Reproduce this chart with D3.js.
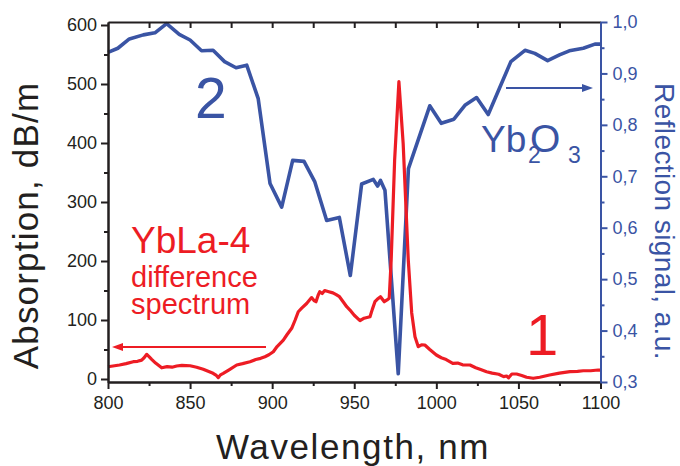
<!DOCTYPE html>
<html>
<head>
<meta charset="utf-8">
<script src="https://cdn.jsdelivr.net/npm/d3@7/dist/d3.min.js"></script>
<style>
  html, body { margin: 0; padding: 0; background: #fff; }
  svg { display: block; font-family: "Liberation Sans", Arial, Helvetica, sans-serif; }
</style>
</head>
<body>
<svg id="chart" width="680" height="466"></svg>
<script>
// Wavelength ticks (nm)
const wavelengthTicks = [800, 850, 900, 950, 1000, 1050, 1100];
const wavelengthMinor = [825, 875, 925, 975, 1025, 1075];
// Absorption ticks (dB/m), left axis
const absorptionTicks = [0, 100, 200, 300, 400, 500, 600];
const absorptionMinor = [50, 150, 250, 350, 450, 550];
// Reflection ticks (a.u.), right axis
const reflectionTicks = [0.3, 0.4, 0.5, 0.6, 0.7, 0.8, 0.9, 1.0];
const reflectionMinor = [0.35, 0.45, 0.55, 0.65, 0.75, 0.85, 0.95];

// Curve 2: Yb2O3 reflection signal
const reflWavelength = [800, 806, 813, 821.5, 828.6, 835.7, 843.4, 850, 857, 864, 871, 878, 884.5,
  891.5, 898.7, 905.8, 912.5, 919.4, 926, 933.2, 940.9, 947.6, 954.5, 961.6, 964.2, 966, 968.7,
  976.8, 983, 996, 1003, 1010.7, 1017.4, 1024.5, 1031.6, 1038.7, 1045.4, 1054, 1060, 1067.8,
  1075, 1081, 1089.5, 1096.6, 1100];
const reflSignal = [0.941, 0.949, 0.967, 0.975, 0.979, 0.997, 0.976, 0.965, 0.944, 0.945, 0.923, 0.911, 0.916,
  0.851, 0.686, 0.640, 0.731, 0.729, 0.689, 0.614, 0.620, 0.507, 0.685, 0.694, 0.681, 0.692, 0.673,
  0.316, 0.715, 0.837, 0.803, 0.811, 0.838, 0.853, 0.820, 0.873, 0.923, 0.945, 0.939, 0.925,
  0.936, 0.944, 0.949, 0.957, 0.957];

// Curve 1: YbLa-4 difference absorption spectrum
const absWavelength = [800, 803, 807, 811, 815.4, 818, 820.5, 822, 823.6, 825, 826.6, 829, 832.7, 836, 839,
  841.8, 845, 850, 854, 858, 861, 864, 866, 867.2, 868.5, 870.2, 874, 878.4, 882, 886.5, 890, 893,
  895.6, 898, 900.7, 903, 906.8, 909, 911.9, 914, 915.9, 918, 921, 924, 925.5, 926.7, 928, 929,
  930.5, 932, 934.5, 937, 939, 941, 944, 945.4, 948, 950, 953.5, 956, 959.6, 961, 962.6, 964, 966,
  968.3, 970, 971.3, 972.5, 974.6, 977.2, 979.8, 982.9, 985, 987, 989, 991, 993, 996, 1000, 1003,
  1006, 1010, 1013, 1016, 1020.5, 1024, 1027, 1030.6, 1034, 1038, 1041, 1042.8, 1044, 1046, 1048.9,
  1052, 1055, 1059, 1063, 1069, 1075, 1081.4, 1086, 1089.5, 1094, 1098.6, 1100];
const absValue = [20.8, 22, 23.7, 26, 29.3, 30, 32, 36, 41.8, 38, 33.3, 27, 19, 21, 20,
  22, 23, 22.5, 20, 16.4, 13, 9.6, 6, 2.3, 7, 9.6, 16, 23.7, 26, 29.3, 33, 35,
  37.8, 41, 46.3, 55, 66, 75, 86, 100, 114, 120, 128, 138, 133, 131, 142, 148,
  145, 150, 148, 146, 143, 139.5, 128, 122.5, 115, 108, 98.8, 103, 105.6, 118, 131, 135, 139.5,
  131, 134, 136.8, 202, 371, 504, 399, 202, 112, 71.7, 54.7, 58, 57.6, 50, 40.7, 36,
  33, 26.6, 27, 24, 23.7, 19, 16, 12.4, 10, 8, 4, 5, 2, 8.5, 8.5,
  6, 3, 1.2, 3, 6.8, 10, 12.4, 13, 14, 14, 15.3, 15];

const RED = "#ed1c24";
const BLUE = "#3a54a4";
const INK = "#231f20";

const svg = d3.select("#chart");

const x = d3.scaleLinear().domain([800, 1100]).range([108, 600.5]);
const yL = d3.scaleLinear().domain([-5.08, 605.08]).range([382, 22]);
const yR = d3.scaleLinear().domain([0.3, 1.0]).range([382, 22]);

function styleAxis(g, color) {
  g.selectAll(".domain").attr("stroke", color).attr("stroke-width", 2);
  g.selectAll(".tick line").attr("stroke", color).attr("stroke-width", 2);
  g.selectAll(".tick text").attr("fill", color).style("font-size", "18px")
    .style("font-family", "'Liberation Sans', Arial, sans-serif");
}

// Curves
const reflPts = reflWavelength.map((w, i) => [w, reflSignal[i]]);
const absPts = absWavelength.map((w, i) => [w, absValue[i]]);

svg.append("path")
  .attr("d", d3.line().x(d => x(d[0])).y(d => yR(d[1]))(reflPts))
  .attr("fill", "none").attr("stroke", BLUE).attr("stroke-width", 3.6)
  .attr("stroke-linejoin", "round");

svg.append("path")
  .attr("d", d3.line().x(d => x(d[0])).y(d => yL(d[1]))(absPts))
  .attr("fill", "none").attr("stroke", RED).attr("stroke-width", 3.2)
  .attr("stroke-linejoin", "round");

// Bottom axis
const gB = svg.append("g").attr("transform", "translate(0,382)")
  .call(d3.axisBottom(x).tickValues(wavelengthTicks).tickSize(7).tickSizeOuter(0).tickPadding(7).tickFormat(d3.format("d")));
styleAxis(gB, INK);
const gBm = svg.append("g").attr("transform", "translate(0,382)")
  .call(d3.axisBottom(x).tickValues(wavelengthMinor).tickSize(4).tickSizeOuter(0).tickFormat(""));
styleAxis(gBm, INK);

// Top frame with inward ticks
const gT = svg.append("g").attr("transform", "translate(0,22)")
  .call(d3.axisBottom(x).tickValues(wavelengthTicks.slice(1, -1).concat(wavelengthMinor)).tickSize(6).tickSizeOuter(0).tickFormat(""));
styleAxis(gT, INK);

// Left axis
const gL = svg.append("g").attr("transform", "translate(108,0)")
  .call(d3.axisLeft(yL).tickValues(absorptionTicks).tickSize(7).tickSizeOuter(0).tickPadding(4).tickFormat(d3.format("d")));
styleAxis(gL, INK);
const gLm = svg.append("g").attr("transform", "translate(108,0)")
  .call(d3.axisLeft(yL).tickValues(absorptionMinor).tickSize(4).tickSizeOuter(0).tickFormat(""));
styleAxis(gLm, INK);

// Right axis
const commaFmt = d => d3.format(".1f")(d).replace(".", ",");
const gR = svg.append("g").attr("transform", "translate(600.5,0)")
  .call(d3.axisRight(yR).tickValues(reflectionTicks).tickSize(7).tickSizeOuter(0).tickPadding(5).tickFormat(commaFmt));
styleAxis(gR, BLUE);
const gRm = svg.append("g").attr("transform", "translate(600.5,0)")
  .call(d3.axisRight(yR).tickValues(reflectionMinor).tickSize(4).tickSizeOuter(0).tickFormat(""));
styleAxis(gRm, BLUE);

// Axis titles
svg.append("text").attr("x", 353).attr("y", 459).attr("text-anchor", "middle")
  .style("font-size", "35px").style("letter-spacing", "1.6px").attr("fill", INK)
  .text("Wavelength, nm");
svg.append("text").attr("transform", "translate(38,225.5) rotate(-90)").attr("text-anchor", "middle")
  .style("font-size", "35px").style("letter-spacing", "1.2px").attr("fill", INK)
  .text("Absorption, dB/m");
svg.append("text").attr("transform", "translate(655,221.5) rotate(90)").attr("text-anchor", "middle")
  .style("font-size", "28px").style("letter-spacing", "0.4px").attr("fill", BLUE)
  .text("Reflection signal, a.u.");

// Curve labels
svg.append("text").attr("x", 195).attr("y", 118).style("font-size", "57px").attr("fill", BLUE).text("2");
svg.append("text").attr("x", 526).attr("y", 355).style("font-size", "58px").attr("fill", RED).text("1");

// Yb2O3 with subscripts
svg.append("text").attr("x", 481).attr("y", 152).style("font-size", "37px").attr("fill", BLUE).text("Yb");
svg.append("text").attr("x", 528).attr("y", 163).style("font-size", "23px").attr("fill", BLUE).text("2");
svg.append("text").attr("x", 530).attr("y", 152).style("font-size", "39px").attr("fill", BLUE).text("O");
svg.append("text").attr("x", 568).attr("y", 163).style("font-size", "23px").attr("fill", BLUE).text("3");

svg.append("text").attr("x", 131).attr("y", 253).style("font-size", "37px").attr("fill", RED).text("YbLa-4");
svg.append("text").attr("x", 131).attr("y", 287).style("font-size", "29px").attr("fill", RED).text("difference");
svg.append("text").attr("x", 131).attr("y", 314).style("font-size", "29px").attr("fill", RED).text("spectrum");

// Arrows pointing to each curve's axis
function arrow(x1, x2, yv, color) {
  const dir = Math.sign(x2 - x1);
  svg.append("line").attr("x1", x1).attr("x2", x2 - dir * 8).attr("y1", yv).attr("y2", yv)
    .attr("stroke", color).attr("stroke-width", 2);
  svg.append("path")
    .attr("d", `M${x2},${yv} L${x2 - dir * 11},${yv - 4} L${x2 - dir * 11},${yv + 4} Z`)
    .attr("fill", color);
}
arrow(266, 112, 347, RED);
arrow(506, 593, 88, BLUE);
</script>
</body>
</html>
